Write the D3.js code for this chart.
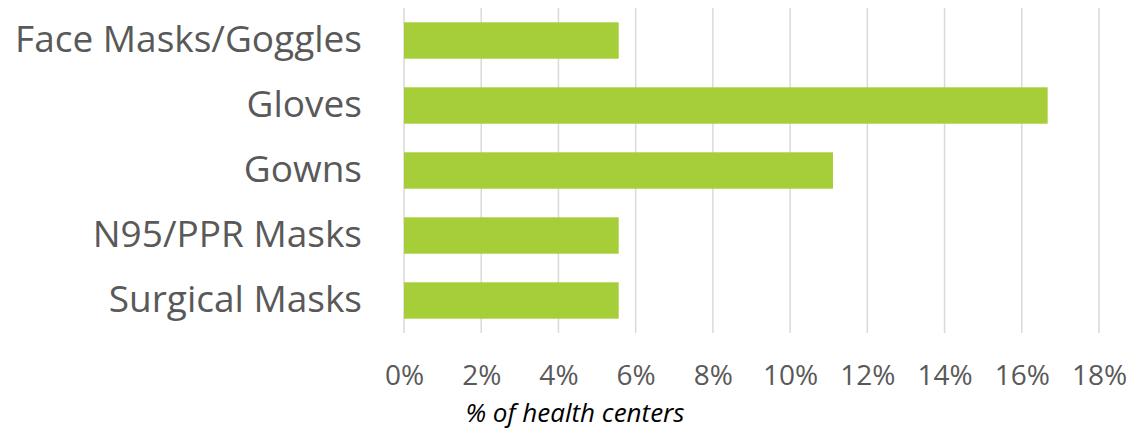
<!DOCTYPE html>
<html>
<head>
    <style>
        body {
            margin: 0;
            background: #ffffff;
            font-family: "Open Sans", Lato, sans-serif;
        }
        .tick text {
            fill: #595959;
        }
    </style>
</head>
<body>
    <div id="chart"></div>
    <script src="https://cdnjs.cloudflare.com/ajax/libs/d3/7.8.5/d3.min.js"></script>
    <script>
        // Data
        const categories = ["Face Masks/Goggles", "Gloves", "Gowns", "N95/PPR Masks", "Surgical Masks"];
        const values = [5.56, 16.67, 11.11, 5.56, 5.56];
        const tickValues = [0, 2, 4, 6, 8, 10, 12, 14, 16, 18];
        const axisTitle = "% of health centers";

        const W = 1134, H = 430;
        const margin = { top: 8, right: 35, bottom: 97, left: 404 };
        const width = W - margin.left - margin.right;
        const height = H - margin.top - margin.bottom;

        const svg = d3.select("#chart")
            .append("svg")
            .attr("width", W)
            .attr("height", H);

        const g = svg.append("g")
            .attr("transform", `translate(${margin.left},${margin.top})`);

        const x = d3.scaleLinear()
            .domain([0, 18])
            .range([0, width]);

        const y = d3.scaleBand()
            .domain(categories)
            .range([0, height])
            .paddingInner(0.44)
            .paddingOuter(0.22);

        // Vertical gridlines
        g.selectAll(".grid")
            .data(tickValues)
            .enter()
            .append("line")
            .attr("class", "grid")
            .attr("x1", d => x(d))
            .attr("x2", d => x(d))
            .attr("y1", 0)
            .attr("y2", height)
            .attr("stroke", "#d9d9d9")
            .attr("stroke-width", 1.5);

        // Bars
        g.selectAll(".bar")
            .data(categories)
            .enter()
            .append("rect")
            .attr("class", "bar")
            .attr("x", x(0))
            .attr("y", d => y(d))
            .attr("width", (d, i) => x(values[i]) - x(0))
            .attr("height", y.bandwidth())
            .attr("fill", "#a6ce39");

        // X axis
        const xAxis = g.append("g")
            .attr("transform", `translate(0,${height})`)
            .call(d3.axisBottom(x)
                .tickValues(tickValues)
                .tickFormat(d => d + "%")
                .tickSize(0)
                .tickPadding(32));
        xAxis.select(".domain").remove();
        xAxis.selectAll("text")
            .style("font-size", "28px")
            .style("font-family", "'Open Sans', Lato, sans-serif");

        // Y axis
        const yAxis = g.append("g")
            .call(d3.axisLeft(y).tickSize(0).tickPadding(42));
        yAxis.select(".domain").remove();
        yAxis.selectAll("text")
            .style("font-size", "37px")
            .style("font-family", "'Open Sans', Lato, sans-serif");

        // Axis title
        svg.append("text")
            .attr("x", 575)
            .attr("y", 422)
            .attr("text-anchor", "middle")
            .style("font-size", "26px")
            .style("font-style", "italic")
            .style("fill", "#000")
            .text(axisTitle);
    </script>
</body>
</html>
